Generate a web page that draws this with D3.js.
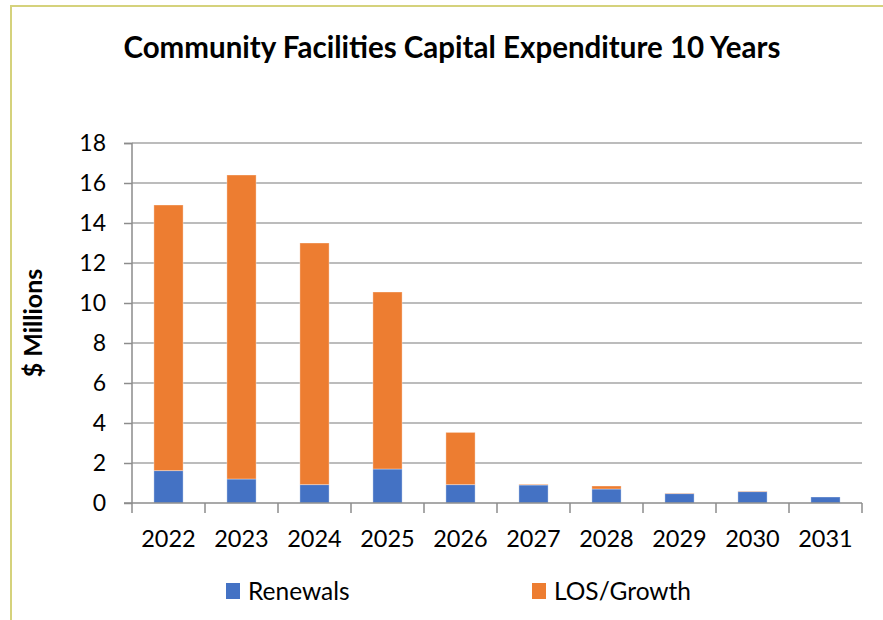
<!DOCTYPE html>
<html>
<head>
<meta charset="utf-8">
<script src="https://cdn.jsdelivr.net/npm/d3@7"></script>
<style>
body { margin: 0; background: #fff; }
text { font-family: Lato, "Open Sans", sans-serif; fill: #000; }
</style>
</head>
<body>
<div id="chart"></div>
<script>
var width = 883;
var height = 620;

// chart data
var years = ["2022", "2023", "2024", "2025", "2026", "2027", "2028", "2029", "2030", "2031"];
var renewals = [1.62, 1.2, 0.92, 1.7, 0.92, 0.9, 0.7, 0.47, 0.57, 0.3];
var growth = [13.28, 15.2, 12.08, 8.85, 2.61, 0.03, 0.15, 0.02, 0.02, 0.0];
var seriesNames = ["Renewals", "LOS/Growth"];
var seriesColors = ["#4472C4", "#ED7D31"];
var yTicks = [0, 2, 4, 6, 8, 10, 12, 14, 16, 18];

var rows = years.map(function(y, i) {
	return { year: y, Renewals: renewals[i], "LOS/Growth": growth[i] };
});

var stack = d3.stack().keys(seriesNames)(rows);

var svg = d3.select("#chart")
	.append("svg")
	.attr("width", width)
	.attr("height", height);

// outer border of the chart
svg.append("rect")
	.attr("x", 11)
	.attr("y", 6)
	.attr("width", 890)
	.attr("height", 640)
	.attr("fill", "none")
	.attr("stroke", "#d5d27c")
	.attr("stroke-width", 2);

var xScale = d3.scaleBand().domain(years).range([132, 862]).paddingInner(0.6).paddingOuter(0.3);
var xBounds = d3.scaleLinear().domain([0, years.length]).range([132, 862]);
var yScale = d3.scaleLinear().domain([0, 18]).range([503, 143]);

// gridlines
svg.append("g")
	.selectAll("line")
	.data(yTicks.slice(1))
	.enter()
	.append("line")
	.attr("x1", 132)
	.attr("x2", 862)
	.attr("y1", function(d) { return yScale(d); })
	.attr("y2", function(d) { return yScale(d); })
	.attr("stroke", "#a6a6a6")
	.attr("stroke-width", 1.5);

// bars
svg.append("g")
	.selectAll("g")
	.data(stack)
	.enter()
	.append("g")
	.attr("fill", function(d, i) { return seriesColors[i]; })
	.selectAll("rect")
	.data(function(d) { return d; })
	.enter()
	.append("rect")
	.attr("x", function(d) { return xScale(d.data.year); })
	.attr("width", xScale.bandwidth())
	.attr("y", function(d) { return yScale(d[1]); })
	.attr("height", function(d) { return yScale(d[0]) - yScale(d[1]); })
	.attr("stroke", "#ffffff")
	.attr("stroke-opacity", 0.35)
	.attr("stroke-width", 1);

// y axis
var yAxis = d3.axisLeft(yScale).tickValues(yTicks).tickSize(8).tickPadding(18);
var gy = svg.append("g")
	.attr("transform", "translate(132,0)")
	.call(yAxis);
gy.selectAll("path, line").attr("stroke", "#8c8c8c").attr("stroke-width", 1.5);
gy.select(".domain").attr("d", "M-8,143.5H0V503.5");
gy.selectAll("text").attr("font-size", 23).attr("font-family", "Lato, sans-serif").attr("fill", "#000");

// x axis
var gx = svg.append("g").attr("transform", "translate(0,503)");
gx.append("line")
	.attr("x1", 124).attr("x2", 862)
	.attr("y1", 0).attr("y2", 0)
	.attr("stroke", "#8c8c8c").attr("stroke-width", 1.5);
gx.selectAll(".tk")
	.data(d3.range(years.length + 1))
	.enter()
	.append("line")
	.attr("class", "tk")
	.attr("x1", function(d) { return xBounds(d); })
	.attr("x2", function(d) { return xBounds(d); })
	.attr("y1", 0).attr("y2", 10)
	.attr("stroke", "#8c8c8c").attr("stroke-width", 1.5);
gx.selectAll(".lbl")
	.data(years)
	.enter()
	.append("text")
	.attr("class", "lbl")
	.attr("x", function(d) { return xScale(d) + xScale.bandwidth() / 2; })
	.attr("y", 44)
	.attr("text-anchor", "middle")
	.attr("font-size", 23.5)
	.text(function(d) { return d; });

// title
svg.append("text")
	.attr("x", 452)
	.attr("y", 58)
	.attr("text-anchor", "middle")
	.attr("font-size", 29.5)
	.attr("font-weight", "bold")
	.text("Community Facilities Capital Expenditure 10 Years");

// y axis label
svg.append("text")
	.attr("transform", "translate(42,323) rotate(-90)")
	.attr("text-anchor", "middle")
	.attr("font-size", 25)
	.attr("font-weight", "bold")
	.text("$ Millions");

// legend
var legendX = [226, 532];
var legend = svg.append("g")
	.selectAll("g")
	.data(seriesNames)
	.enter()
	.append("g")
	.attr("transform", function(d, i) { return "translate(" + legendX[i] + ",583)"; });
legend.append("rect")
	.attr("width", 14)
	.attr("height", 16)
	.attr("fill", function(d, i) { return seriesColors[i]; });
legend.append("text")
	.attr("x", 22)
	.attr("y", 17)
	.attr("font-size", 24.5)
	.text(function(d) { return d; });
</script>
</body>
</html>
